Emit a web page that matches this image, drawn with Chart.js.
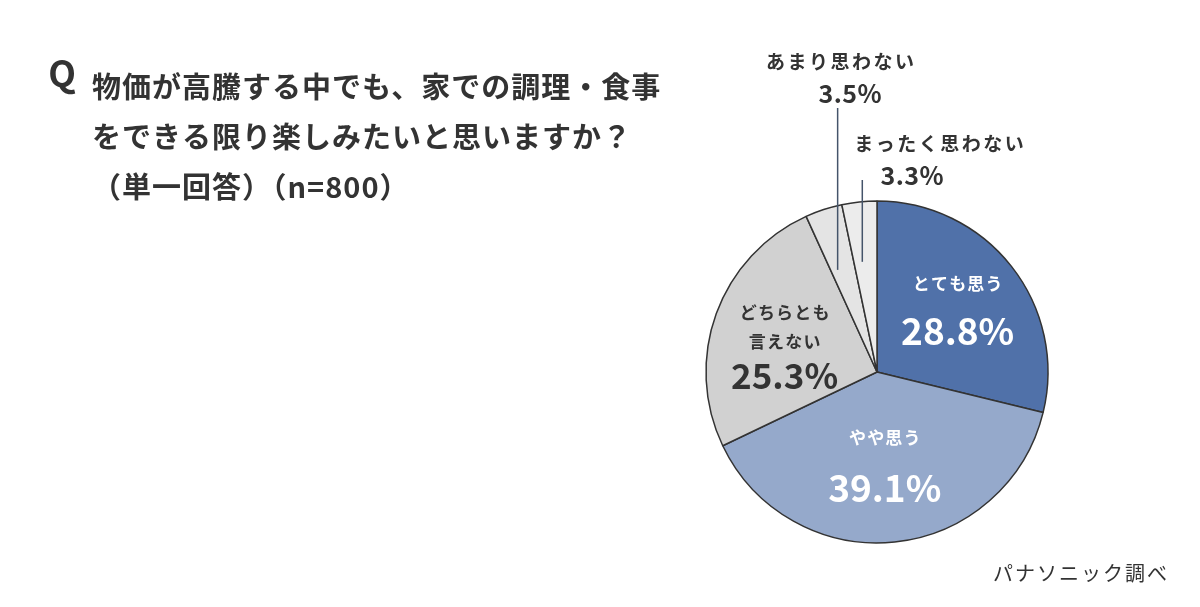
<!DOCTYPE html>
<html><head><meta charset="utf-8">
<script src="https://cdn.jsdelivr.net/npm/chart.js@4/dist/chart.umd.min.js"></script>
<style>html,body{margin:0;padding:0;background:#fff;}#wrap{width:1200px;height:607px;position:relative;}</style>
</head><body><div id="wrap"><canvas id="c" width="1200" height="607"></canvas></div>
<script>
const categories = ['とても思う', 'やや思う', 'どちらとも言えない', 'あまり思わない', 'まったく思わない'];
const labelLines = [['とても思う'], ['やや思う'], ['どちらとも', '言えない'], ['あまり思わない'], ['まったく思わない']];
const values = [28.8, 39.1, 25.3, 3.5, 3.3];
const colors = ['#5071a9', '#95a9cb', '#d1d1d1', '#e4e4e4', '#ececec'];
const titleLines = ['物価が高騰する中でも、家での調理・食事', 'をできる限り楽しみたいと思いますか？', '（単一回答）（n=800）'];
const sourceText = 'パナソニック調べ';

const JP = '"Noto Sans CJK JP", "Noto Sans", sans-serif';
const DARK = '#333333';

const inside = {
  0: {af: 0.5, rf: 0.6, dx: 0, dy: 0, offs: [-25, 22], color: '#ffffff', size: 37},
  1: {af: 0.5, rf: 0.55, dx: -2, dy: 0, offs: [-28, 22], color: '#ffffff', size: 37},
  2: {af: 0.5, rf: 0.6, dx: 4, dy: 0, offs: [-24, 5, 39], color: DARK, size: 35}
};
const outside = {
  3: {af: 0.27, rf: 0.64, lineTop: 108, tx: 840, ty: 62, py: 93, px: 850},
  4: {af: 0.36, rf: 0.65, lineTop: 180, tx: 939, ty: 144, py: 175, px: 912}
};

function txt(ctx, s, x, y, font, color, spacing, align) {
  ctx.save();
  ctx.font = font;
  ctx.fillStyle = color;
  ctx.textBaseline = 'middle';
  ctx.letterSpacing = (spacing || 0) + 'px';
  ctx.textAlign = 'left';
  const w = ctx.measureText(s).width - (spacing || 0);
  let sx = x;
  if (align === 'center' || !align) sx = x - w / 2;
  ctx.fillText(s, sx, y);
  ctx.restore();
}

const labelPlugin = {
  id: 'labels',
  afterDatasetsDraw(chart) {
    const ctx = chart.ctx;
    const meta = chart.getDatasetMeta(0);
    meta.data.forEach((arc, i) => {
      const p = arc.getProps(['x', 'y', 'startAngle', 'endAngle', 'outerRadius'], true);
      const v = values[i].toFixed(1) + '%';
      if (inside[i]) {
        const L = inside[i];
        const a = p.startAngle + (p.endAngle - p.startAngle) * L.af;
        const cx = p.x + Math.cos(a) * p.outerRadius * L.rf + L.dx;
        const cy = p.y + Math.sin(a) * p.outerRadius * L.rf + L.dy;
        const lines = labelLines[i];
        lines.forEach((ln, k) => {
          txt(ctx, ln, cx, cy + L.offs[k], 'bold 17px ' + JP, L.color, 1.2);
        });
        txt(ctx, v, cx, cy + L.offs[lines.length], 'bold ' + L.size + 'px ' + JP, L.color, 0);
      } else if (outside[i]) {
        const L = outside[i];
        const a = p.startAngle + (p.endAngle - p.startAngle) * L.af;
        const ax = p.x + Math.cos(a) * p.outerRadius * L.rf;
        const ay = p.y + Math.sin(a) * p.outerRadius * L.rf;
        ctx.save();
        ctx.strokeStyle = '#44546a';
        ctx.lineWidth = 1.5;
        ctx.beginPath();
        ctx.moveTo(ax, ay);
        ctx.lineTo(ax, L.lineTop);
        ctx.stroke();
        ctx.restore();
        txt(ctx, labelLines[i][0], L.tx, L.ty, 'bold 19px ' + JP, DARK, 2.5);
        txt(ctx, v, L.px, L.py, 'bold 25px ' + JP, DARK, 0.5);
      }
    });
  },
  afterDraw(chart) {
    const ctx = chart.ctx;
    txt(ctx, 'Q', 62, 73, 'bold 36px ' + JP, DARK, 0);
    titleLines.forEach((s, k) => {
      txt(ctx, s, 92, 87 + k * 50, 'bold 29px ' + JP, DARK, 1, 'left');
    });
    txt(ctx, sourceText, 993, 573, '20px ' + JP, DARK, 2, 'left');
  }
};

new Chart(document.getElementById('c'), {
  type: 'pie',
  data: {
    labels: categories,
    datasets: [{
      data: values,
      backgroundColor: colors,
      borderColor: '#333333',
      borderWidth: 1.5,
      radius: 171
    }]
  },
  options: {
    responsive: false,
    animation: false,
    layout: {padding: {left: 706, right: 152, top: 201, bottom: 64}},
    plugins: {legend: {display: false}, tooltip: {enabled: false}}
  },
  plugins: [labelPlugin]
});
</script>
</body></html>
